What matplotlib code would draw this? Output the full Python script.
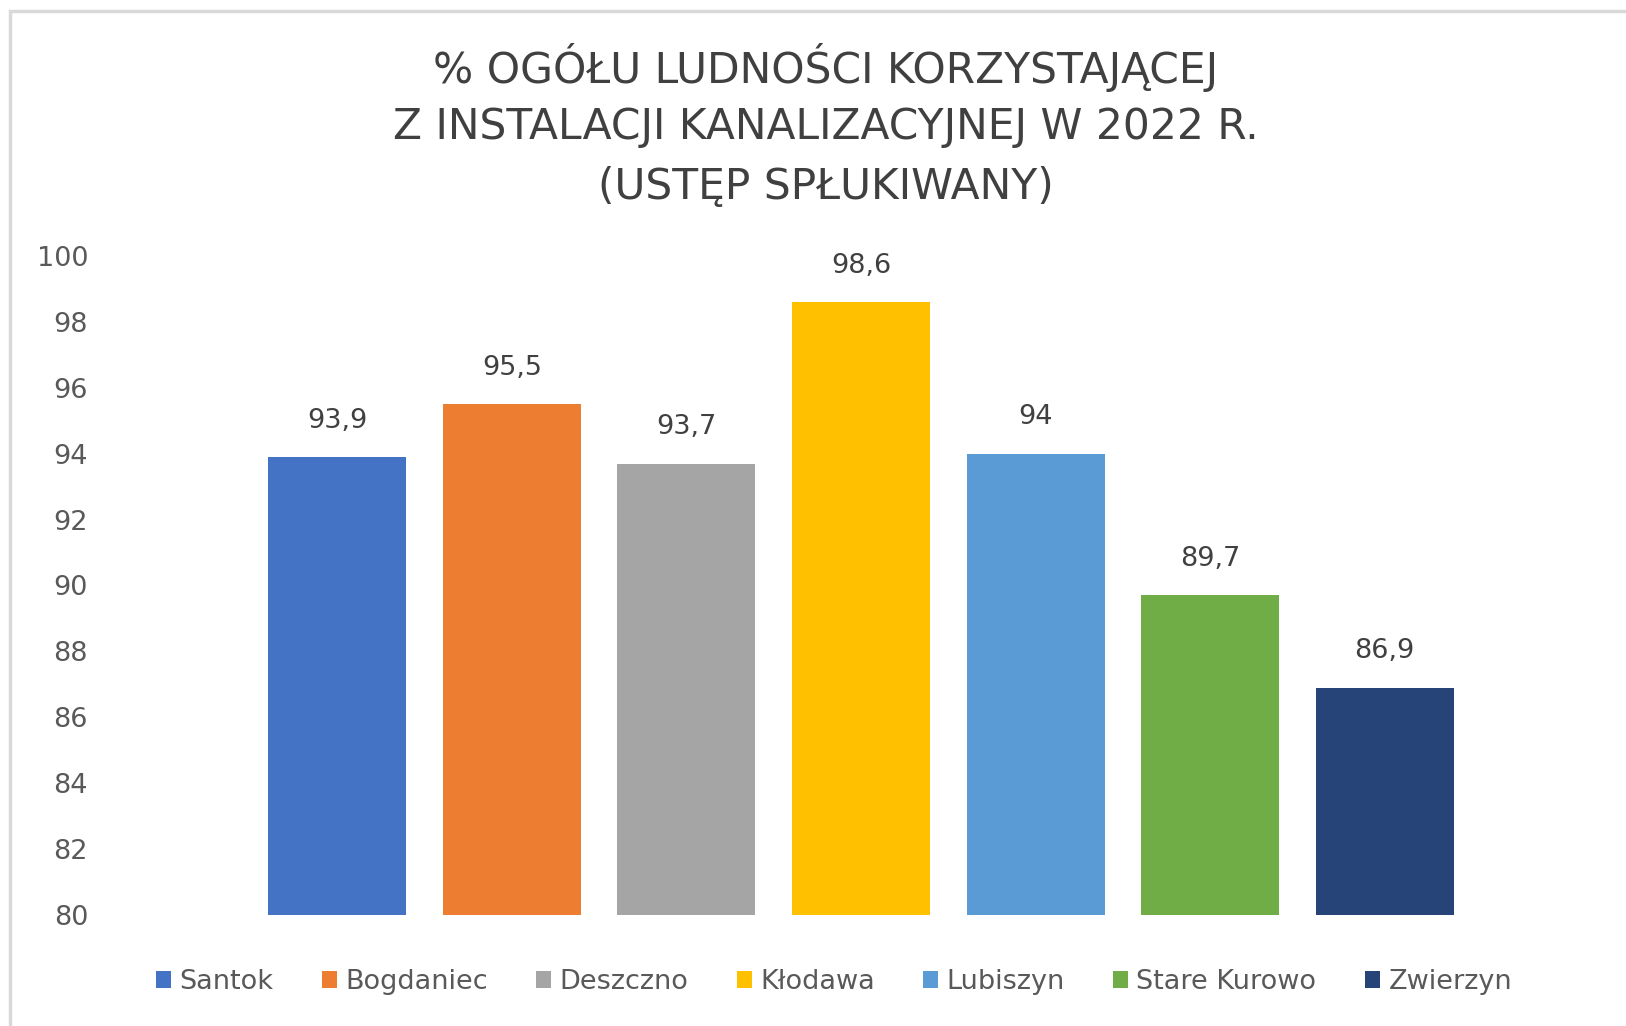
import numpy as np
import matplotlib.pyplot as plt
from matplotlib.patches import Rectangle

gminy = ['Santok', 'Bogdaniec', 'Deszczno', 'Kłodawa', 'Lubiszyn', 'Stare Kurowo', 'Zwierzyn']
wartosci = [93.9, 95.5, 93.7, 98.6, 94.0, 89.7, 86.9]
etykiety = ['93,9', '95,5', '93,7', '98,6', '94', '89,7', '86,9']
kolory = ['#4472C4', '#ED7D31', '#A5A5A5', '#FFC000', '#5B9BD5', '#70AD47', '#264478']
tytul = ['% OGÓŁU LUDNOŚCI KORZYSTAJĄCEJ',
         'Z INSTALACJI KANALIZACYJNEJ W 2022 R.',
         '(USTĘP SPŁUKIWANY)']

plt.rcParams['font.family'] = ['DejaVu Sans']

W, H = 1626, 1026
fig = plt.figure(figsize=(W / 100, H / 100), dpi=100)

# ramka wykresu (jasnoszara)
fig.patches.append(Rectangle((10 / W, -0.1), 1.2, 1 - 11 / H + 0.1, transform=fig.transFigure,
                             fill=False, edgecolor='#D9D9D9', lw=2.5))

ax = fig.add_axes([250 / W, 1 - 915 / H, (1472 - 250) / W, (915 - 256) / H])
x = np.arange(len(gminy))
bary = ax.bar(x, np.array(wartosci) - 80, bottom=80, width=0.79, color=kolory, label=gminy)

for xi, v, t in zip(x, wartosci, etykiety):
    ax.text(xi, v + 1.1, t, ha='center', va='center', fontsize=19.5, color='#404040')

ax.set_xlim(-0.5, len(gminy) - 0.5)
ax.set_ylim(80, 100)
ax.set_yticks(np.arange(80, 101, 2))
ax.set_xticks([])
ax.tick_params(axis='y', length=0, labelsize=19.5, labelcolor='#595959', pad=(250 - 88) * 0.72)
for s in ax.spines.values():
    s.set_visible(False)

# tytuł w trzech wierszach
for i, linia in enumerate(tytul):
    fig.text(826 / W, 1 - (67 + 60 * i) / H, linia, ha='center', va='center', fontsize=30.5,
             color='#404040')

fig.legend(handles=bary, labels=gminy, loc='center', bbox_to_anchor=(834 / W, 1 - 982 / H),
           ncol=7, frameon=False, fontsize=19.5, handlelength=0.55, handleheight=0.55,
           handletextpad=0.3, columnspacing=1.8, labelcolor='#595959')

fig.savefig('out.png', dpi=100, facecolor='white')
